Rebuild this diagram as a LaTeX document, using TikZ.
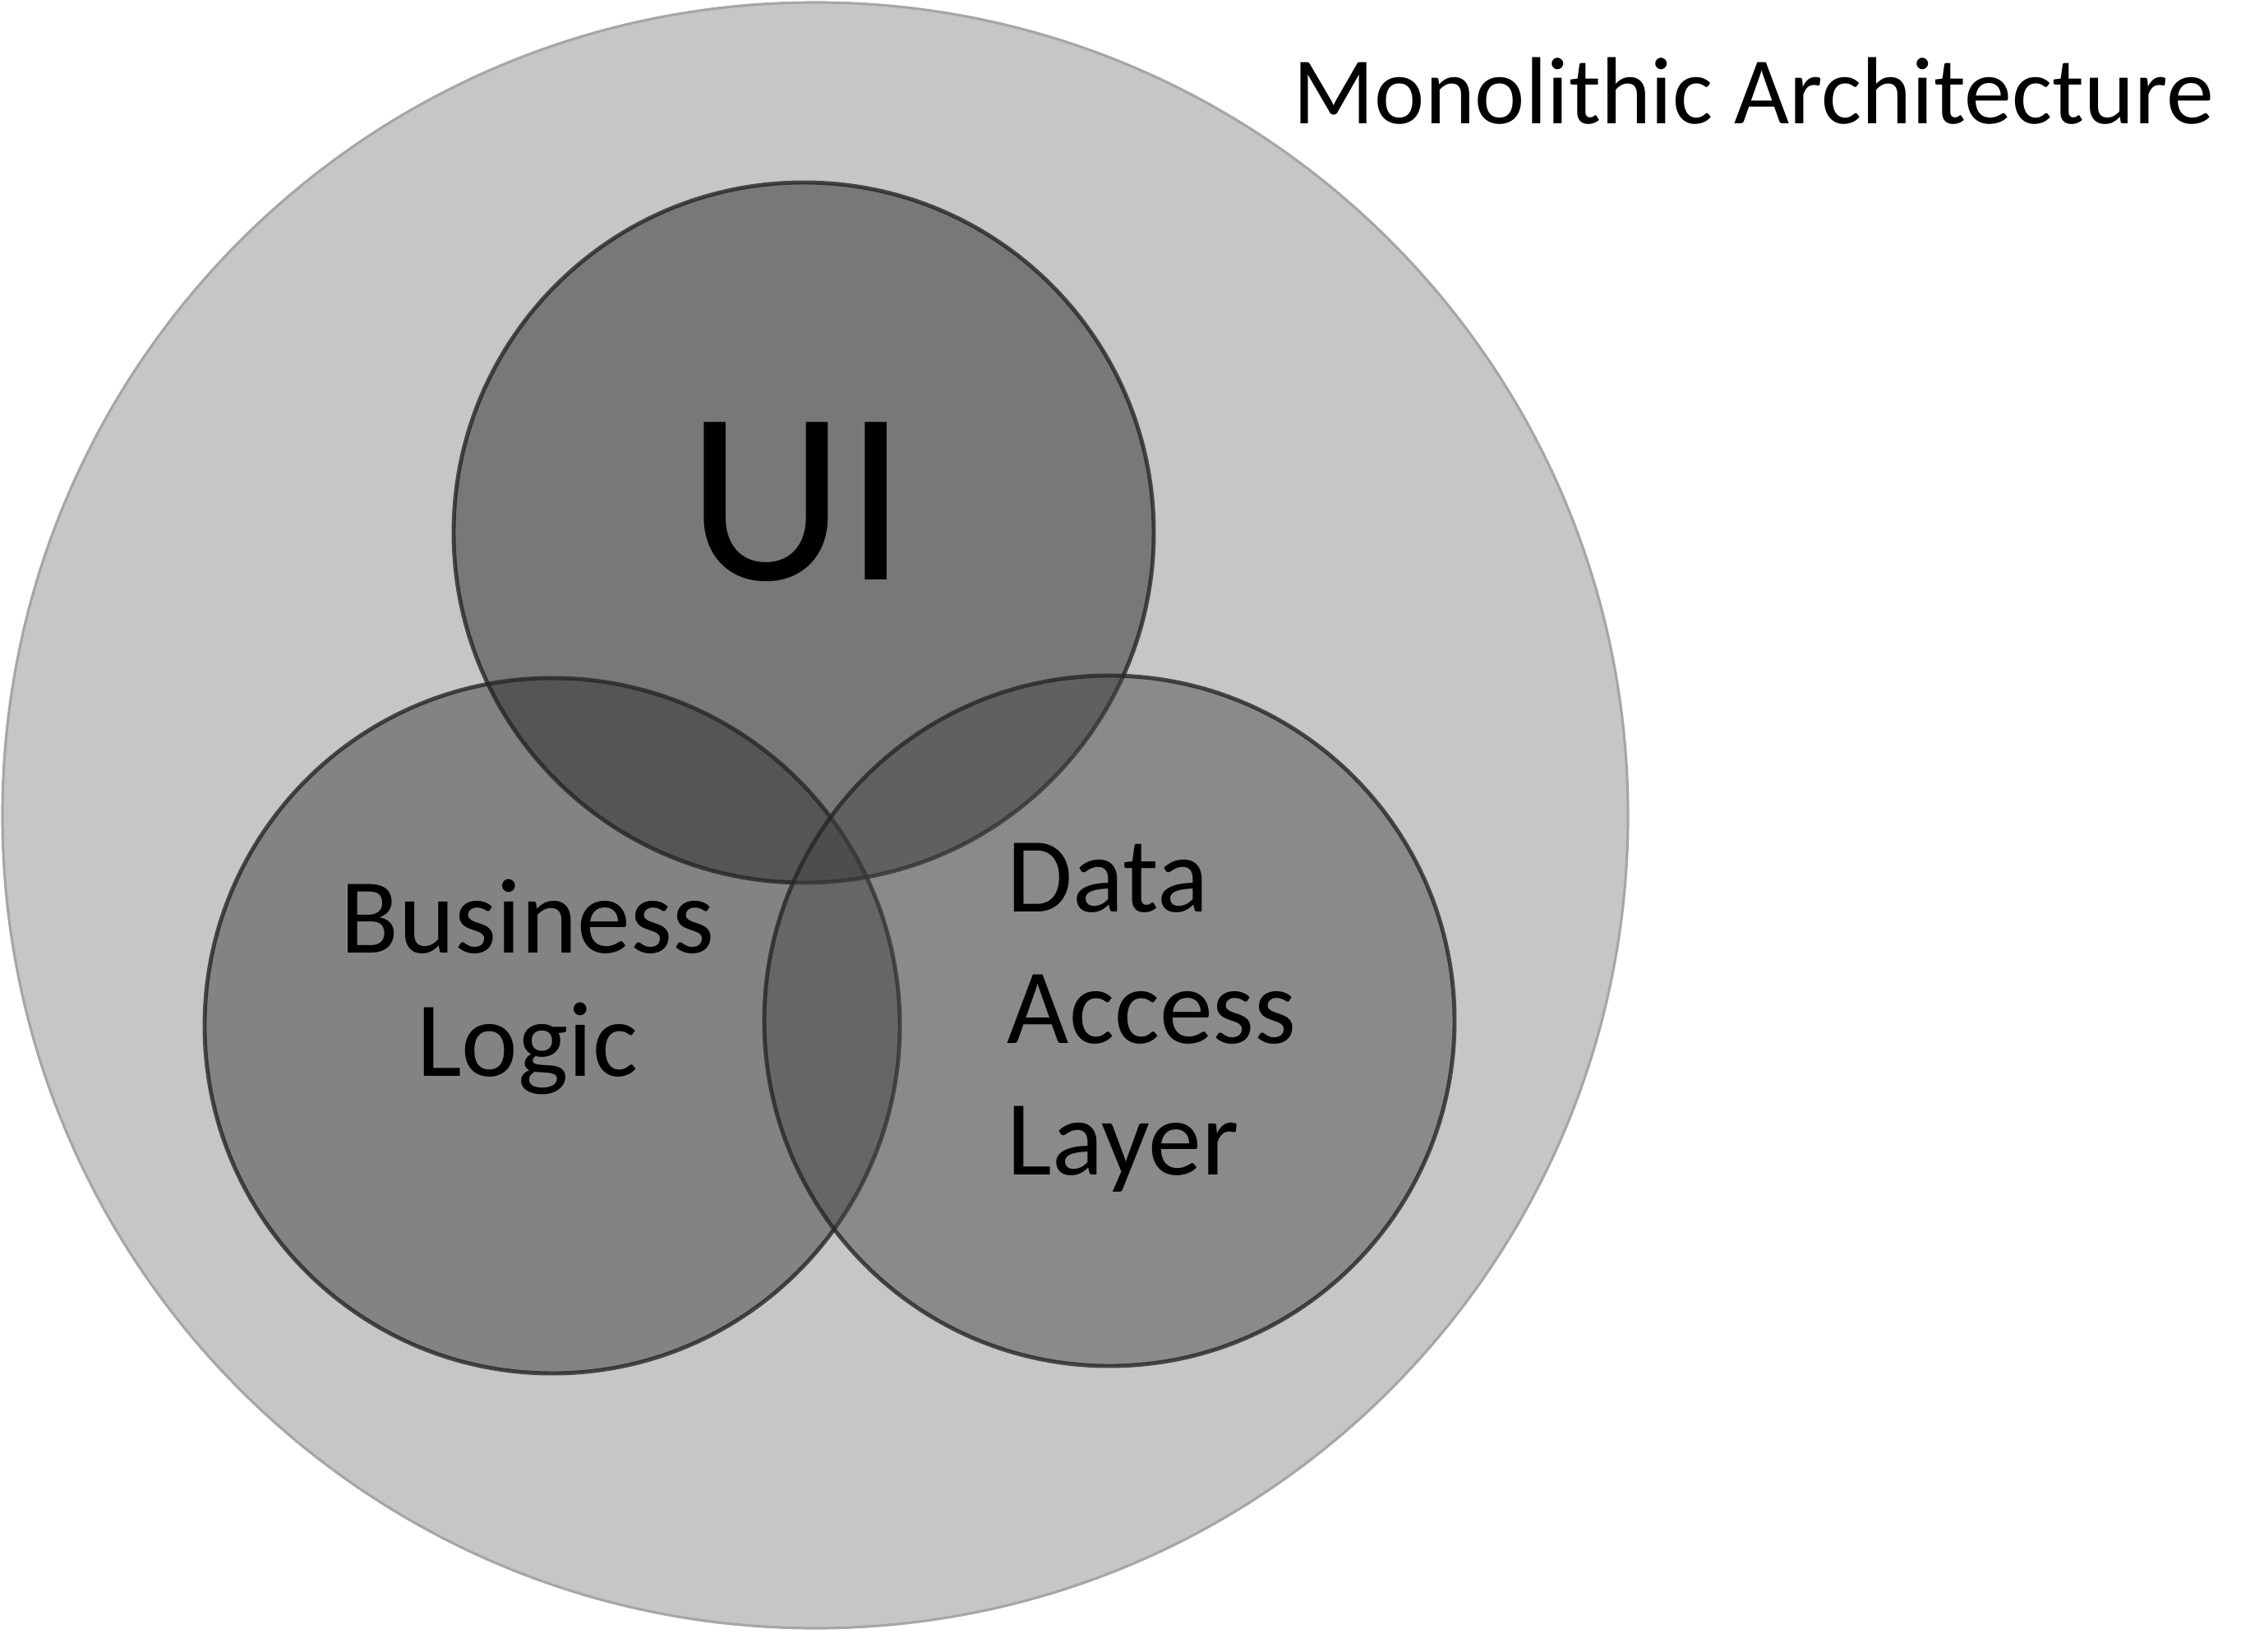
\documentclass[tikz,border=0pt]{standalone}
\usepackage{fontspec}
\setmainfont{Carlito}
\usetikzlibrary{positioning}

\definecolor{shell}{HTML}{C6C6C6}
\definecolor{shellrim}{HTML}{A6A6A6}

\tikzset{
  layer/.style={circle, inner sep=0pt, draw=black!85, draw opacity=0.8, line width=1.4pt},
  caption/.style={inner sep=0pt, font=\fontsize{37}{42.5}\selectfont},
}

\begin{document}
\begin{tikzpicture}[x=1cm, y=-1cm]
  \useasboundingbox (0,0) rectangle (27.55,20.10);
  % the monolith and its three layers
  \node[circle, inner sep=0pt, minimum size=19.78cm, fill=shell, draw=shellrim, line width=0.9pt] (mono) at (9.92,9.92) {};
  \node[layer, minimum size=8.52cm, fill=black!80, fill opacity=0.53] (ui) at (9.78,6.48) {};
  \node[layer, minimum size=8.46cm, fill=black!86, fill opacity=0.41] (logic) at (6.72,12.48) {};
  \node[layer, minimum size=8.40cm, fill=black!73, fill opacity=0.46] (data) at (13.50,12.42) {};

  % labels
  \node[anchor=base west, inner sep=0pt, font=\fontsize{33}{40}\selectfont] (title) at (15.73,1.51) {Monolithic Architecture};
  \node[anchor=base, inner sep=0pt, font=\fontsize{85}{100}\selectfont] (uitext) at (9.70,7.06) {UI};
  \node[caption, align=center, anchor=base] (logictext) at (6.42,13.09) {Business\\Logic};
  \node[caption, align=left, anchor=base west, font=\fontsize{37}{45.5}\selectfont] (datatext) at (12.25,14.29) {Data\\Access\\Layer};
\end{tikzpicture}
\end{document}
